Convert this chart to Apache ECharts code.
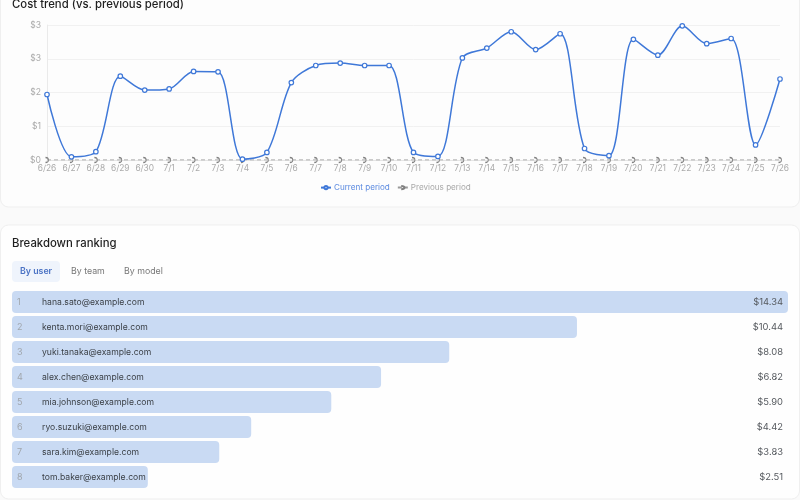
<!DOCTYPE html>
<html>
<head>
<meta charset="utf-8">
<style>html,body{margin:0;padding:0;background:#fafafa;overflow:hidden}#c{width:800px;height:500px}</style>
<script src="https://cdn.jsdelivr.net/npm/echarts@6/dist/echarts.min.js"></script>
</head>
<body>
<div id="c"></div>
<script>
const days = ['6/26','6/27','6/28','6/29','6/30','7/1','7/2','7/3','7/4','7/5','7/6','7/7','7/8','7/9','7/10','7/11','7/12','7/13','7/14','7/15','7/16','7/17','7/18','7/19','7/20','7/21','7/22','7/23','7/24','7/25','7/26'];
const currentPeriod = [1.65,0.08,0.21,2.11,1.76,1.79,2.23,2.22,0.02,0.19,1.95,2.38,2.44,2.38,2.38,0.19,0.09,2.57,2.82,3.23,2.78,3.18,0.29,0.11,3.04,2.64,3.38,2.93,3.06,0.38,2.04];
const previousPeriod = [0,0,0,0,0,0,0,0,0,0,0,0,0,0,0,0,0,0,0,0,0,0,0,0,0,0,0,0,0,0,0];
const users = ['hana.sato@example.com','kenta.mori@example.com','yuki.tanaka@example.com','alex.chen@example.com','mia.johnson@example.com','ryo.suzuki@example.com','sara.kim@example.com','tom.baker@example.com'];
const costs = [14.34,10.44,8.08,6.82,5.90,4.42,3.83,2.51];
const tabs = ['By user','By team','By model'];

const FONT = 'Inter, "Noto Sans", sans-serif';
const chart = echarts.init(document.getElementById('c'), null, {renderer:'canvas'});
const txt = (x,y,text,size,weight,fill)=>({type:'text',z:10,style:{x,y,text,font:`${weight} ${size}px ${FONT}`,fill,textVerticalAlign:'middle'}});
chart.setOption({
  animation:false,
  backgroundColor:'#fafafa',
  textStyle:{fontFamily:FONT},
  graphic:[
    {type:'rect',z:-10,shape:{x:0.5,y:-20,width:799,height:227,r:8},style:{fill:'#fdfdfd',stroke:'#efefef',lineWidth:1}},
    {type:'rect',z:-10,shape:{x:0.5,y:225,width:799,height:274,r:8},style:{fill:'#fefefe',stroke:'#efefef',lineWidth:1}},
    txt(12,5,'Cost trend (vs. previous period)',11.35,500,'#1f1f1f'),
    txt(12,243.5,'Breakdown ranking',11.35,500,'#1f1f1f'),
    {type:'rect',z:-5,shape:{x:12,y:261,width:48,height:21,r:4},style:{fill:'#eff4fc'}},
    txt(20,271.5,tabs[0],8.8,600,'#4a72c4'),
    txt(71,271.5,tabs[1],8.8,400,'#777'),
    txt(124,271.5,tabs[2],8.8,400,'#777')
  ],
  legend:{
    top:183.5,left:320,padding:0,itemWidth:10,itemHeight:4,itemGap:7,
    textStyle:{fontSize:8.1,padding:[0,0,0,-2]},
    data:[
      {name:'Current period',textStyle:{color:'#5b8ae0'}},
      {name:'Previous period',textStyle:{color:'#a8a8a8'}}
    ]
  },
  grid:[
    {left:47,right:20,top:25,height:135},
    {left:12,right:12,top:289.5,height:200}
  ],
  xAxis:[
    {type:'category',gridIndex:0,data:days,boundaryGap:false,
     axisLine:{show:true,lineStyle:{color:'#e5e5e5'}},axisTick:{show:false},
     axisLabel:{color:'#aaa',fontSize:8.4,margin:4,interval:0}},
    {type:'value',gridIndex:1,min:0,max:Math.max(...costs),show:false}
  ],
  yAxis:[
    {type:'value',gridIndex:0,min:0,max:3.4,interval:0.85,
     axisLine:{show:true,lineStyle:{color:'#eaeaea'}},axisTick:{show:false},
     splitLine:{lineStyle:{color:'#f1f1f1'}},
     axisLabel:{color:'#aaa',fontSize:8.6,margin:6,formatter:v=>'$'+Math.round(v)}},
    {type:'category',gridIndex:1,inverse:true,data:users,z:5,
     axisLine:{show:false},axisTick:{show:false},splitLine:{show:false},
     axisLabel:{inside:true,margin:5,interval:0,
       formatter:(v,i)=>`{r|${i+1}}{n|${v}}`,
       rich:{r:{width:25,fontSize:9,color:'#a0a6ad',fontFamily:FONT},
             n:{fontSize:8.65,color:'#3a3f45',fontFamily:FONT}}}},
    {type:'category',gridIndex:1,inverse:true,position:'right',data:costs.map(c=>'$'+c.toFixed(2)),z:5,
     axisLine:{show:false},axisTick:{show:false},splitLine:{show:false},
     axisLabel:{inside:true,margin:5,interval:0,fontSize:9.4,color:'#55595e'}}
  ],
  series:[
    {name:'Current period',type:'line',xAxisIndex:0,yAxisIndex:0,data:currentPeriod,smooth:0.3,
     symbol:'circle',symbolSize:4.5,showAllSymbol:true,z:3,
     lineStyle:{color:'#3f78d8',width:1.5},
     itemStyle:{color:'#ffffff',borderColor:'#3f78d8',borderWidth:1.2}},
    {name:'Previous period',type:'line',xAxisIndex:0,yAxisIndex:0,data:previousPeriod,
     symbol:'path://M0 0A4 4 0 0 1 0 8',symbolSize:[3,5],showAllSymbol:true,z:2,
     lineStyle:{color:'#9a9a9a',width:1.1,type:[4,3]},
     itemStyle:{color:'none',borderColor:'#808080',borderWidth:1}},
    {name:'Cost',type:'bar',xAxisIndex:1,yAxisIndex:1,data:costs,barWidth:22,
     itemStyle:{color:'#c9daf3',borderRadius:4},silent:true}
  ]
});
</script>
</body>
</html>
